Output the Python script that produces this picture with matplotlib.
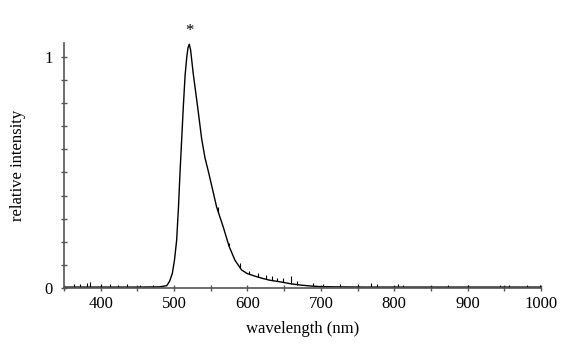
import matplotlib.pyplot as plt
from matplotlib.ticker import MultipleLocator, FixedLocator
import numpy as np

# ...................................................... spectrum
wl = [350, 400, 450, 480, 490, 494, 497.6, 500.5, 503.5, 506, 508, 510.3,
      512.5, 515, 517.2, 519, 520.7, 522.5, 526.2, 532.2, 537.6, 542, 547.5,
      558, 567, 575, 583, 592, 600, 612.5, 620, 630, 644, 658, 671.5, 685,
      698.8, 720, 760, 800, 900, 1000]
inten = [0.004, 0.004, 0.004, 0.005, 0.01, 0.03, 0.063, 0.12, 0.207, 0.35,
         0.494, 0.64, 0.78, 0.92, 0.997, 1.04, 1.055, 1.03, 0.925, 0.781,
         0.645, 0.565, 0.494, 0.35, 0.264, 0.18, 0.12, 0.078, 0.062, 0.049,
         0.042, 0.034, 0.027, 0.019, 0.013, 0.009, 0.006, 0.005, 0.004, 0.004,
         0.004, 0.004]

# noise spikes: wavelength, height above curve
spike_wl = [364, 372, 382, 386, 400, 413, 424, 436, 453, 471, 560, 575, 590,
            602, 615, 625, 633, 640, 648, 659, 668, 689, 703, 726, 750, 769,
            776, 805, 812, 873, 900, 944, 957, 981, 998]
spike_h = [0.012, 0.015, 0.018, 0.02, 0.014, 0.012, 0.01, 0.012, 0.01, 0.01,
           0.02, 0.015, 0.02, 0.015, 0.02, 0.018, 0.02, 0.015, 0.02, 0.035,
           0.015, 0.012, 0.01, 0.012, 0.014, 0.018, 0.012, 0.012, 0.01, 0.01,
           0.01, 0.008, 0.01, 0.008, 0.01]

plt.rcParams['font.family'] = 'Liberation Serif'
fig = plt.figure(figsize=(5.65, 3.46), dpi=100)
ax = fig.add_axes([0.1133, 0.1676, 0.8442, 0.708])

ax.plot(wl, inten, 'k-', linewidth=1.0)
base = np.interp(spike_wl, wl, inten)
ax.vlines(spike_wl, base, base + np.array(spike_h), colors='k', linewidth=0.8)

ax.text(520.7, 1.11, '*', ha='center', va='center', fontsize=12, clip_on=False)

ax.set_xlim(350, 1000)
ax.set_ylim(0, 1.06)
for s in ['top', 'right']:
  ax.spines[s].set_visible(False)
for s in ['left', 'bottom']:
  ax.spines[s].set_color('#555555')
  ax.spines[s].set_linewidth(1.2)

ax.xaxis.set_major_locator(MultipleLocator(100))
ax.xaxis.set_minor_locator(MultipleLocator(50))
ax.yaxis.set_major_locator(FixedLocator([0, 1]))
ax.yaxis.set_minor_locator(MultipleLocator(0.1))
ax.tick_params(which='both', direction='inout', length=4, width=1, color='#555555',
               labelsize=12)
ax.tick_params(axis='y', pad=6)
ax.tick_params(axis='x', pad=4)

ax.set_xlabel('wavelength (nm)', fontsize=12, labelpad=6)
ax.set_ylabel('relative intensity', fontsize=12, labelpad=13)

plt.savefig('out.png', dpi=100)
